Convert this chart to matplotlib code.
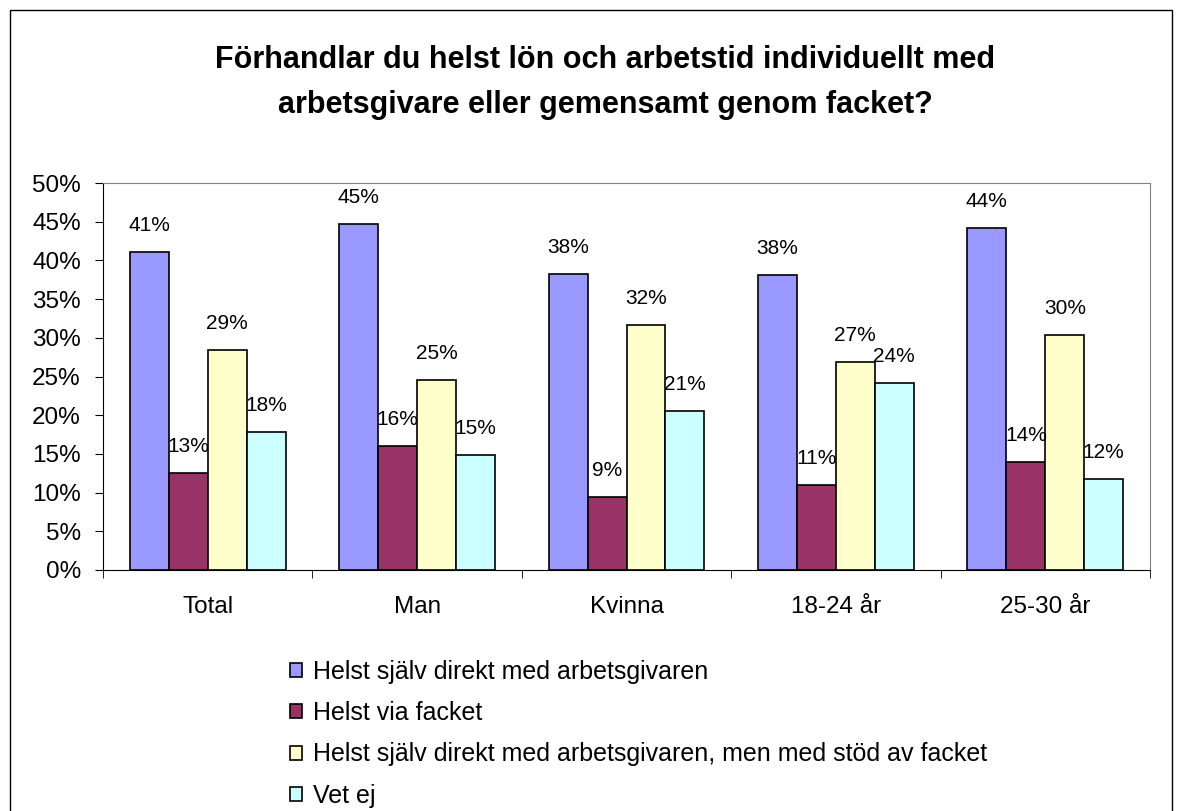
import numpy as np
import matplotlib.pyplot as plt
from matplotlib.patches import Rectangle

categories = ['Total', 'Man', 'Kvinna', '18-24 år', '25-30 år']
series = ['Helst själv direkt med arbetsgivaren',
          'Helst via facket',
          'Helst själv direkt med arbetsgivaren, men med stöd av facket',
          'Vet ej']
values = [
    [41.1, 44.7, 38.3, 38.1, 44.2],
    [12.5, 16.0, 9.4, 11.0, 14.0],
    [28.4, 24.5, 31.7, 26.9, 30.3],
    [17.8, 14.8, 20.6, 24.1, 11.8],
]
labels = [
    ['41%', '45%', '38%', '38%', '44%'],
    ['13%', '16%', '9%', '11%', '14%'],
    ['29%', '25%', '32%', '27%', '30%'],
    ['18%', '15%', '21%', '24%', '12%'],
]
colors = ['#9999ff', '#993366', '#ffffcc', '#ccffff']
title_lines = ['Förhandlar du helst lön och arbetstid individuellt med',
               'arbetsgivare eller gemensamt genom facket?']

plt.rcParams['font.family'] = ['Liberation Sans', 'DejaVu Sans']

dpi = 100
fig = plt.figure(figsize=(1184 / dpi, 811 / dpi), dpi=dpi)
fig.patches.append(Rectangle((10 / 1184, -0.1), 1162 / 1184, 1 - 10 / 811 + 0.1,
                             transform=fig.transFigure, fill=False,
                             edgecolor='black', linewidth=1))
ax = fig.add_axes([103 / 1184, 1 - 570 / 811, 1047 / 1184, 387 / 811])

x = np.arange(len(categories))
w = 0.186
for i in range(len(series)):
    pos = x + (i - 1.5) * w
    ax.bar(pos, values[i], w, color=colors[i], edgecolor='black',
           linewidth=1.2, label=series[i])
    for j in range(len(categories)):
        ax.text(pos[j], values[i][j] + 2.2, labels[i][j], ha='center',
                va='bottom', fontsize=15)

ax.set_xlim(-0.5, len(categories) - 0.5)
ax.set_ylim(0, 50)
ax.set_yticks(np.arange(0, 51, 5))
ax.set_yticklabels(['%d%%' % v for v in range(0, 51, 5)], fontsize=17.5)
ax.set_xticks(x)
ax.set_xticklabels(categories, fontsize=17.5)
ax.set_xticks(np.arange(-0.5, len(categories)), minor=True)
ax.tick_params(axis='x', which='major', length=0, pad=19)
ax.tick_params(axis='x', which='minor', length=6, direction='out')
ax.tick_params(axis='y', length=6, direction='out', pad=10)
ax.spines['top'].set_color('#808080')
ax.spines['right'].set_color('#808080')

for k, line in enumerate(title_lines):
    fig.text(605 / 1184, 1 - (60 + 45 * k) / 811, line, ha='center',
             va='center', fontsize=22, fontweight='bold')

leg = fig.legend(loc='upper left', bbox_to_anchor=(267 / 1184, 1 - 637 / 811),
                 frameon=False, fontsize=18, handlelength=0.5,
                 handleheight=0.5, handletextpad=0.45, labelspacing=0.7)

fig.savefig('out.png', dpi=dpi)
